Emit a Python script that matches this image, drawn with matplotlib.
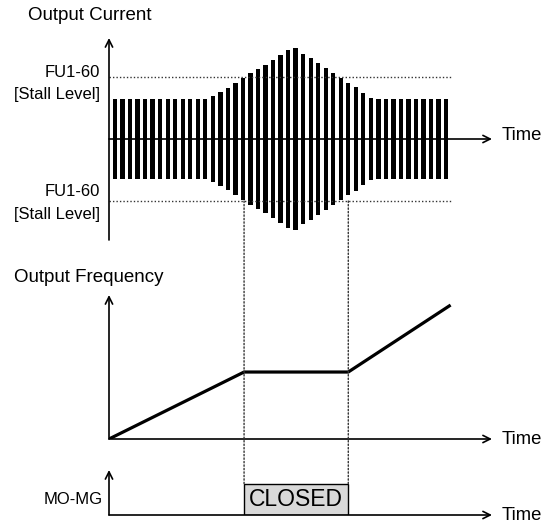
import matplotlib.pyplot as plt
from matplotlib.patches import ConnectionPatch, Rectangle

W, H = 551, 526

# output current: half-height of each PWM bar (bar index = time unit)
current_amp = [40, 40, 40, 40, 40, 40, 40, 40, 40, 40, 40, 40, 40,
               43, 47, 51, 56, 61, 66, 70, 74, 79, 84, 89, 91,
               85, 81, 76, 71, 66, 61, 56, 52, 46, 41,
               40, 40, 40, 40, 40, 40, 40, 40, 40, 40]
bar_time = list(range(len(current_amp)))
stall_level = 62

# output frequency profile (percent)
freq_time = [-0.8, 17.15, 31.0, 44.6]
freq_value = [0, 50, 50, 100]

# MO-MG relay closed interval
closed_start, closed_end = 17.15, 31.0

t_min, t_max = -0.8, 50.1

plt.rcParams['font.family'] = ['Liberation Sans', 'DejaVu Sans']

fig = plt.figure(figsize=(W / 100, H / 100), dpi=100)


def add_ax(top, bottom):
    ax = fig.add_axes([109 / W, 1 - bottom / H, (492 - 109) / W, (bottom - top) / H])
    ax.set_xlim(t_min, t_max)
    ax.axis('off')
    return ax


def axis_arrows(ax, ymin, ymax, ybase):
    arrow = dict(arrowstyle='->', lw=1.2, color='black', shrinkA=0, shrinkB=0,
                 mutation_scale=13)
    ax.annotate('', xy=(t_min, ymax), xytext=(t_min, ymin), arrowprops=arrow,
                annotation_clip=False)
    ax.annotate('', xy=(t_max, ybase), xytext=(t_min, ybase), arrowprops=arrow,
                annotation_clip=False)


dots = dict(color='#333333', lw=1.0, linestyle=(0, (1, 1.5)))

# --- output current ---
ax1 = add_ax(38, 240)
ax1.set_ylim(-101, 101)
ax1.bar(bar_time, [2 * a for a in current_amp], bottom=[-a for a in current_amp],
        width=0.57, color='black', linewidth=0)
ax1.plot([t_min, 44.8], [stall_level, stall_level], **dots)
ax1.plot([t_min, 44.8], [-stall_level, -stall_level], **dots)
axis_arrows(ax1, -101, 101, 0)

# --- output frequency ---
ax2 = add_ax(295, 439)
ax2.set_ylim(0, 107.5)
ax2.plot(freq_time, freq_value, color='black', lw=2.3, solid_capstyle='butt')
axis_arrows(ax2, 0, 107.5, 0)

# --- MO-MG ---
ax3 = add_ax(470, 515)
ax3.set_ylim(0, 1.45)
ax3.add_patch(Rectangle((closed_start, 0), closed_end - closed_start, 1,
                        facecolor='#d9d9d9', edgecolor='black', lw=1.0, zorder=2))
ax3.text((closed_start + closed_end) / 2, 0.5, 'CLOSED', ha='center', va='center',
         fontsize=16.5, zorder=3)
axis_arrows(ax3, 0, 1.45, 0)

# dotted guides from the stall level down to the relay box
for t in (closed_start, closed_end):
    con = ConnectionPatch(xyA=(t, -stall_level), coordsA=ax1.transData,
                          xyB=(t, 1), coordsB=ax3.transData, **dots)
    fig.add_artist(con)


def label(x, y, s, size, ha='left'):
    fig.text(x / W, 1 - y / H, s, ha=ha, va='center', fontsize=size)


label(28, 15, 'Output Current', 13.5)
label(100, 72, 'FU1-60', 12, 'right')
label(100, 95, '[Stall Level]', 12, 'right')
label(100, 192, 'FU1-60', 12, 'right')
label(100, 215, '[Stall Level]', 12, 'right')
label(14, 278, 'Output Frequency', 13.5)
label(103, 500, 'MO-MG', 12, 'right')
for y in (136, 440, 515):
    label(502, y, 'Time', 13.3)

fig.savefig('out.png', dpi=100)
